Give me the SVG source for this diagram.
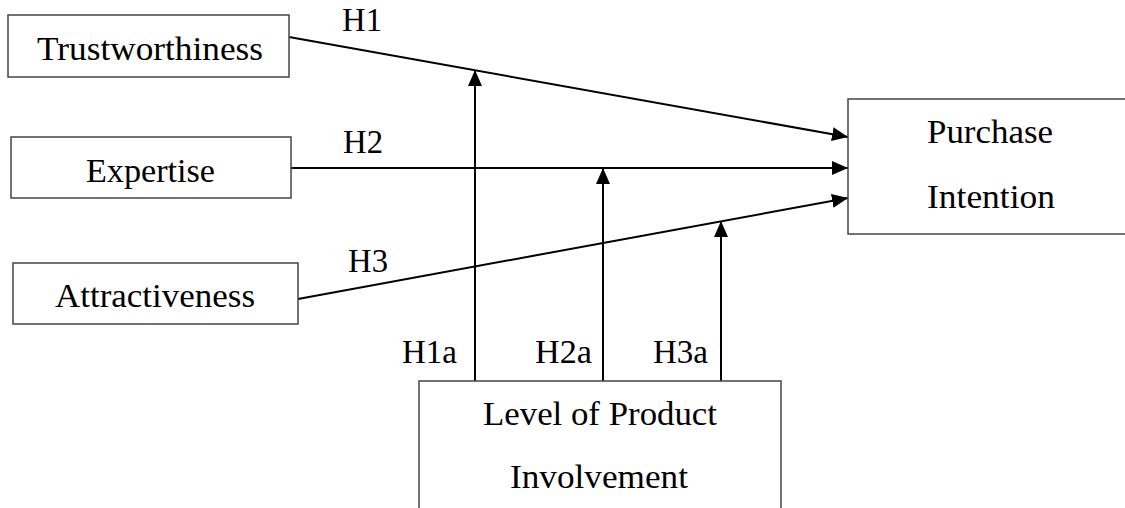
<svg xmlns="http://www.w3.org/2000/svg" width="1125" height="508" viewBox="0 0 1125 508">
<style>
.box{fill:#fff;stroke:#444;stroke-width:1.5}
.t{font-family:"Liberation Serif","Times New Roman",serif;font-size:33px;fill:#000}
.c{stroke:#000;stroke-width:2;fill:none;marker-end:url(#ah)}
</style>
<defs>
<marker id="ah" viewBox="0 0 16 14" refX="16" refY="7" markerWidth="16" markerHeight="14" markerUnits="userSpaceOnUse" orient="auto">
<path d="M0,0 L16,7 L0,14 z" fill="#000"/>
</marker>
</defs>
<rect width="1125" height="508" fill="#fff"/>
<g id="connectors">
<line class="c" x1="289" y1="37" x2="848" y2="137"/>
<line class="c" x1="291" y1="168" x2="848" y2="168"/>
<line class="c" x1="298" y1="299" x2="848" y2="198"/>
<line class="c" x1="475" y1="381" x2="475" y2="70"/>
<line class="c" x1="603" y1="381" x2="603" y2="168"/>
<line class="c" x1="721" y1="381" x2="721" y2="221"/>
<text class="t" x="342" y="31" textLength="40" lengthAdjust="spacingAndGlyphs">H1</text>
<text class="t" x="343" y="153" textLength="40" lengthAdjust="spacingAndGlyphs">H2</text>
<text class="t" x="348" y="272" textLength="40" lengthAdjust="spacingAndGlyphs">H3</text>
<text class="t" x="402" y="363" textLength="55" lengthAdjust="spacingAndGlyphs">H1a</text>
<text class="t" x="535" y="363" textLength="57" lengthAdjust="spacingAndGlyphs">H2a</text>
<text class="t" x="653" y="363" textLength="55" lengthAdjust="spacingAndGlyphs">H3a</text>
</g>
<g id="trustworthiness">
<rect class="box" x="8" y="15" width="281" height="62"/>
<text class="t" x="37" y="60" textLength="226" lengthAdjust="spacingAndGlyphs">Trustworthiness</text>
</g>
<g id="expertise">
<rect class="box" x="11" y="137" width="280" height="61"/>
<text class="t" x="86" y="182" textLength="129" lengthAdjust="spacingAndGlyphs">Expertise</text>
</g>
<g id="attractiveness">
<rect class="box" x="13" y="263" width="285" height="61"/>
<text class="t" x="55" y="307" textLength="200" lengthAdjust="spacingAndGlyphs">Attractiveness</text>
</g>
<g id="purchase-intention">
<rect class="box" x="848" y="99" width="290" height="135"/>
<text class="t" x="927" y="143" textLength="126" lengthAdjust="spacingAndGlyphs">Purchase</text>
<text class="t" x="927" y="208" textLength="128" lengthAdjust="spacingAndGlyphs">Intention</text>
</g>
<g id="product-involvement">
<rect class="box" x="419" y="381" width="362" height="140"/>
<text class="t" x="483" y="425" textLength="234" lengthAdjust="spacingAndGlyphs">Level of Product</text>
<text class="t" x="510" y="488" textLength="178" lengthAdjust="spacingAndGlyphs">Involvement</text>
</g>
</svg>
